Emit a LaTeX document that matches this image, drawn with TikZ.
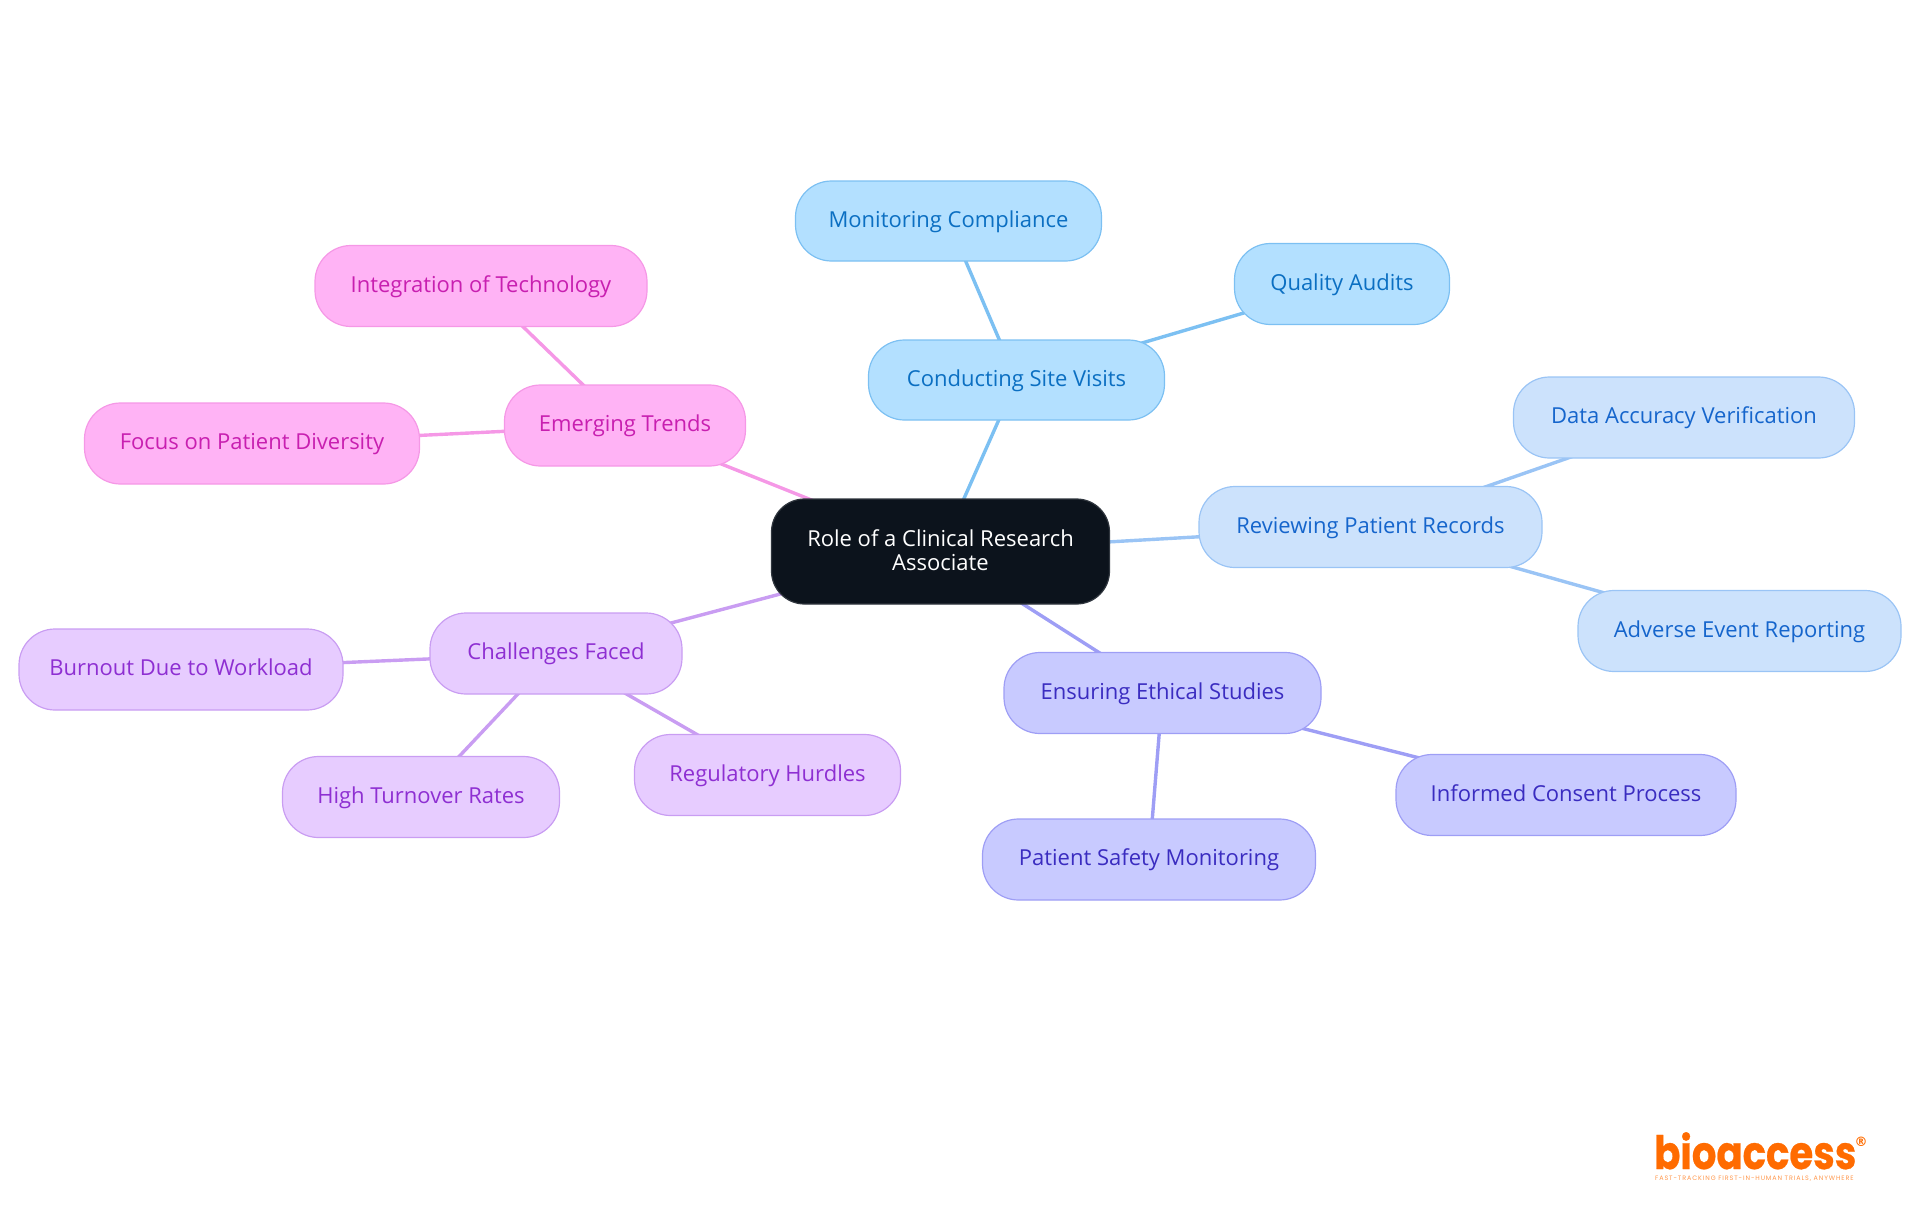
\documentclass[tikz,border=0pt]{standalone}
\usepackage{fontspec}
\setmainfont{Open Sans}
\newfontfamily\logofont{Poppins}
\newfontfamily\logoheavy[FakeBold=0.6]{Poppins Bold}
\newfontfamily\regfont{DejaVu Sans}
\usetikzlibrary{backgrounds}
\definecolor{rootfill}{HTML}{0C131C}
\definecolor{afill}{HTML}{B3E0FF}\definecolor{aline}{HTML}{7CC0F2}\definecolor{atext}{HTML}{0B6FC2}
\definecolor{bfill}{HTML}{CCE2FC}\definecolor{bline}{HTML}{9AC4F5}\definecolor{btext}{HTML}{1565CC}
\definecolor{cfill}{HTML}{C8CAFF}\definecolor{cline}{HTML}{9E9EF5}\definecolor{ctext}{HTML}{3A2CC0}
\definecolor{dfill}{HTML}{E7CCFF}\definecolor{dline}{HTML}{C99DF2}\definecolor{dtext}{HTML}{8E2FD2}
\definecolor{efill}{HTML}{FFB3F5}\definecolor{eline}{HTML}{F598E6}\definecolor{etext}{HTML}{C81FB0}
\definecolor{logoorange}{HTML}{FF6B00}
\tikzset{
  pill/.style={rounded corners=36pt,inner sep=0pt,line width=1.2pt,align=center,
    font=\fontsize{22}{24.3}\selectfont,text height=17pt,text depth=4.4pt},
  rootnode/.style={pill,rounded corners=33pt,fill=rootfill,draw=rootfill!85!white,text=white,text height=,text depth=2.5pt},
  anode/.style={pill,fill=afill,draw=aline,text=atext},
  bnode/.style={pill,fill=bfill,draw=bline,text=btext},
  cnode/.style={pill,fill=cfill,draw=cline,text=ctext},
  dnode/.style={pill,fill=dfill,draw=dline,text=dtext},
  enode/.style={pill,fill=efill,draw=eline,text=etext},
  edge/.style={line width=3.4pt},
}
\begin{document}
\begin{tikzpicture}[x=1pt,y=-1pt]
\useasboundingbox (0,0) rectangle (1920,1215);
\node[rootnode,minimum width=338pt,minimum height=105pt] (root) at (940.5,551.5) {Role of a Clinical Research\\Associate};
\node[anode,minimum width=296pt,minimum height=80pt] (site) at (1016.5,380) {Conducting Site Visits};
\node[anode,minimum width=306pt,minimum height=80pt] (monitor) at (948.5,221) {Monitoring Compliance};
\node[anode,minimum width=215pt,minimum height=81pt] (audit) at (1342,284) {Quality Audits};
\node[bnode,minimum width=343pt,minimum height=81pt] (review) at (1370.5,527) {Reviewing Patient Records};
\node[bnode,minimum width=341pt,minimum height=81pt] (data) at (1684,417.5) {Data Accuracy Verification};
\node[bnode,minimum width=323pt,minimum height=81pt] (adverse) at (1739.5,631) {Adverse Event Reporting};
\node[cnode,minimum width=317pt,minimum height=81pt] (ethics) at (1162.5,693) {Ensuring Ethical Studies};
\node[cnode,minimum width=340pt,minimum height=81pt] (consent) at (1566,795) {Informed Consent Process};
\node[cnode,minimum width=333pt,minimum height=81pt] (safety) at (1149,859.5) {Patient Safety Monitoring};
\node[dnode,minimum width=252pt,minimum height=81pt] (hurdle) at (556,653.5) {Challenges Faced};
\node[dnode,minimum width=324pt,minimum height=81pt] (burnout) at (181,669.5) {Burnout Due to Workload};
\node[dnode,minimum width=277pt,minimum height=81pt] (turnover) at (421,797) {High Turnover Rates};
\node[dnode,minimum width=266pt,minimum height=81pt] (regul) at (767.5,775) {Regulatory Hurdles};
\node[enode,minimum width=241pt,minimum height=81pt] (trends) at (625,425.5) {Emerging Trends};
\node[enode,minimum width=332pt,minimum height=81pt] (tech) at (481,286) {Integration of Technology};
\node[enode,minimum width=335pt,minimum height=81pt] (divers) at (252,443.5) {Focus on Patient Diversity};
\begin{pgfonlayer}{background}
\draw[edge,aline] (root.center) -- (site.center);
\draw[edge,aline] (site.center) -- (monitor.center);
\draw[edge,aline] (site.center) -- (audit.center);
\draw[edge,bline] (root.center) -- (review.center);
\draw[edge,bline] (review.center) -- (data.center);
\draw[edge,bline] (review.center) -- (adverse.center);
\draw[edge,cline] (root.center) -- (ethics.center);
\draw[edge,cline] (ethics.center) -- (consent.center);
\draw[edge,cline] (ethics.center) -- (safety.center);
\draw[edge,dline] (root.center) -- (hurdle.center);
\draw[edge,dline] (hurdle.center) -- (burnout.center);
\draw[edge,dline] (hurdle.center) -- (turnover.center);
\draw[edge,dline] (hurdle.center) -- (regul.center);
\draw[edge,eline] (root.center) -- (trends.center);
\draw[edge,eline] (trends.center) -- (tech.center);
\draw[edge,eline] (trends.center) -- (divers.center);
\end{pgfonlayer}
\node[inner sep=0pt,anchor=base west,text=logoorange,xscale=.84,transform shape] (logo) at (1654,1169) {\logoheavy\fontsize{46}{46}\selectfont bioaccess};
\node[inner sep=0pt,text=logoorange] (reg) at (1861,1142) {\regfont\bfseries\fontsize{13}{13}\selectfont ®};
\node[inner sep=0pt,anchor=base west,text=logoorange!70!white] (tag) at (1655,1180) {\logofont\fontsize{6.4}{7}\selectfont\addfontfeature{LetterSpace=14}FAST-TRACKING FIRST-IN-HUMAN TRIALS, ANYWHERE};
\end{tikzpicture}
\end{document}
